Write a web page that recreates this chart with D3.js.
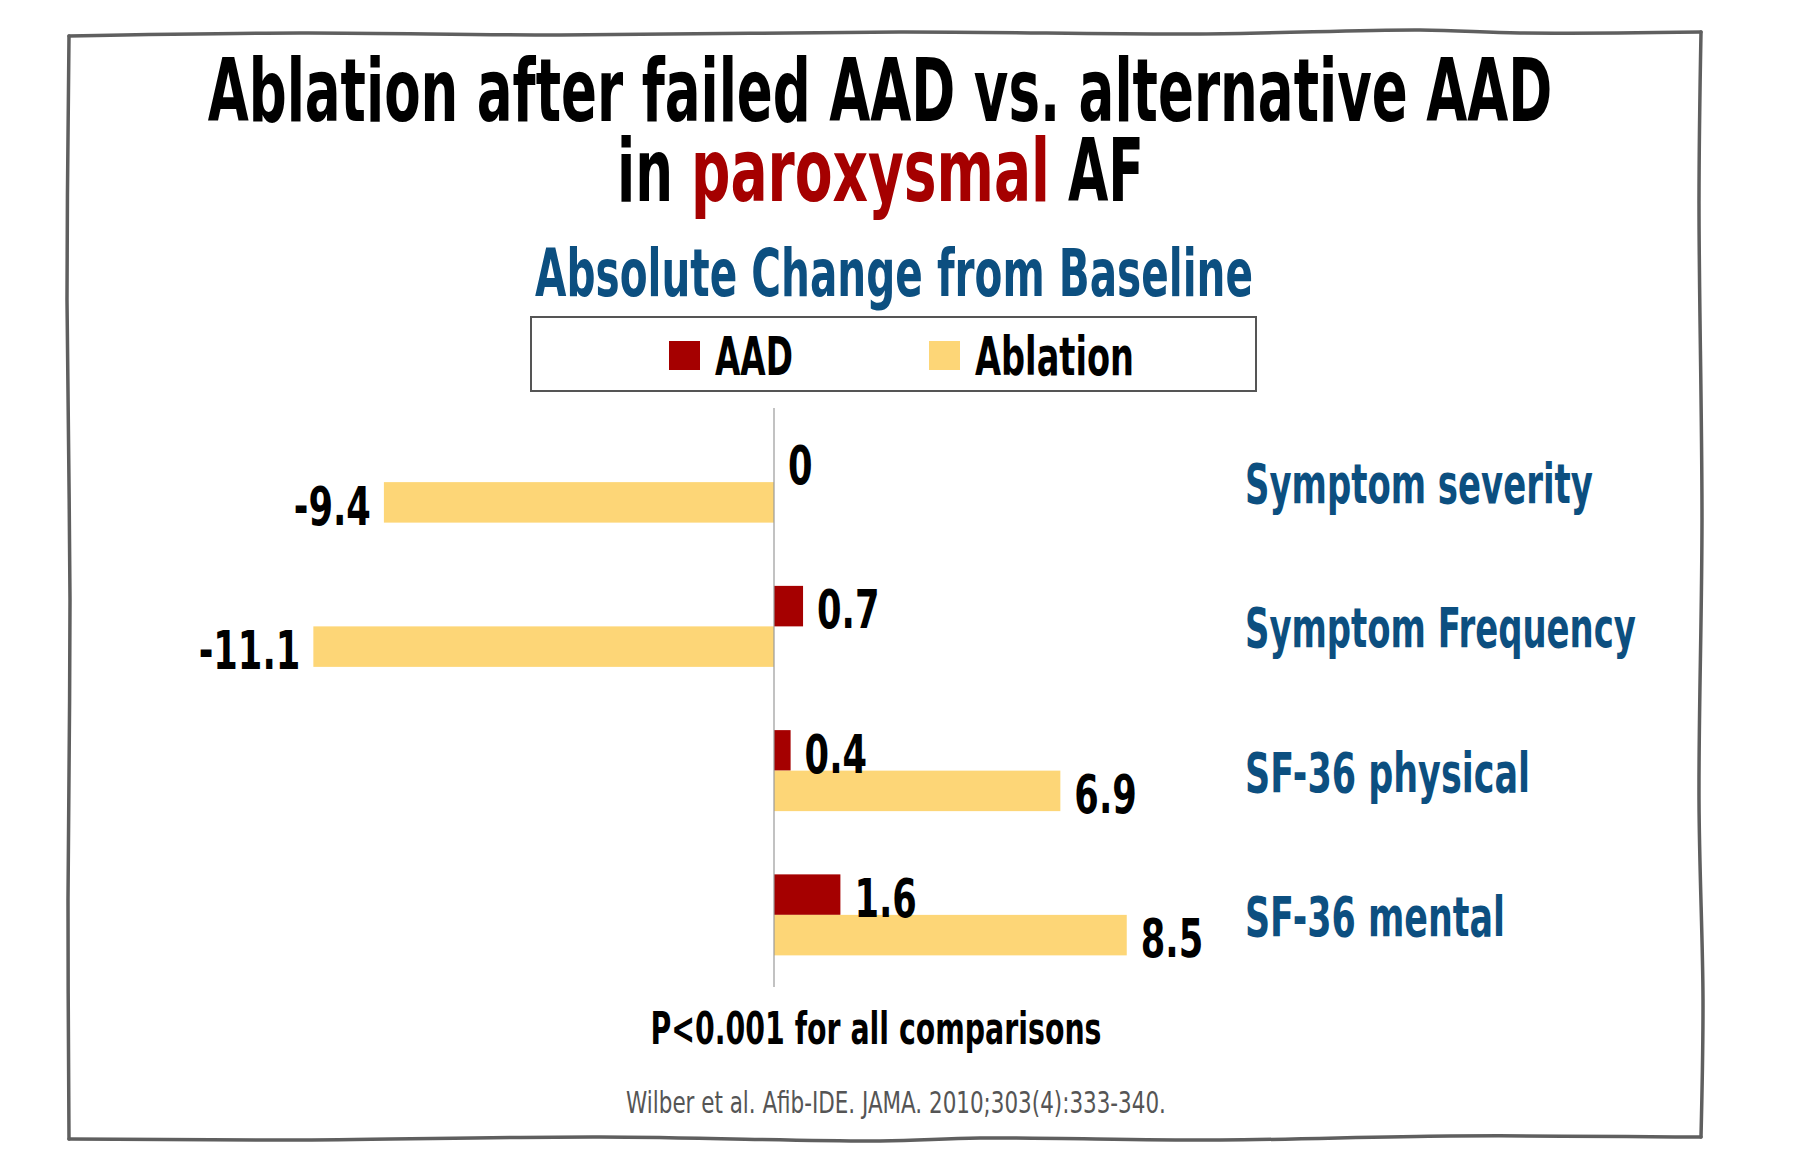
<!DOCTYPE html>
<html>
<head>
<meta charset="utf-8">
<script src="https://cdn.jsdelivr.net/npm/d3@7"></script>
<style>
  body { margin: 0; background: #fff; }
  svg text { font-family: "Liberation Sans Narrow", "DejaVu Sans Condensed", "Roboto", sans-serif; font-weight: bold; }
</style>
</head>
<body>
<div id="chart"></div>
<script>
// Data
const categories = ['Symptom severity', 'Symptom Frequency', 'SF-36 physical', 'SF-36 mental'];
const series = ['AAD', 'Ablation'];
const aad_values = [0, 0.7, 0.4, 1.6];
const ablation_values = [-9.4, -11.1, 6.9, 8.5];
const series_colors = ['#a50000', '#fdd677'];

const width = 1803;
const height = 1171;

const svg = d3.select('#chart')
	.append('svg')
	.attr('width', width)
	.attr('height', height)
	.attr('viewBox', [0, 0, width, height]);

// Hand drawn looking frame, one stroke per edge so the corners stay sharp
const frame_edges = [
	[[69, 36], [300, 33], [560, 35], [900, 32], [1200, 34], [1420, 30], [1520, 33], [1701, 32]],
	[[1701, 32], [1699, 200], [1702, 520], [1699, 800], [1703, 1000], [1701, 1137]],
	[[1701, 1137], [1450, 1136], [1220, 1140], [980, 1138], [880, 1141], [600, 1137], [300, 1140], [69, 1139]],
	[[69, 1139], [68, 900], [70, 600], [67, 300], [69, 36]]
];
frame_edges.forEach((pts) => {
	svg.append('path')
		.attr('d', d3.line().curve(d3.curveCatmullRom)(pts))
		.attr('fill', 'none')
		.attr('stroke', '#5f5f5f')
		.attr('stroke-width', 3.5)
		.attr('stroke-linecap', 'round');
});

// helper: place a text at (x, y) and squeeze it horizontally
// (the installed fonts are wider than the original condensed face)
function addText(x, y, str, size, color, opts = {}) {
	const t = svg.append('text')
		.attr('x', 0).attr('y', 0)
		.attr('text-anchor', opts.anchor || 'start')
		.style('font-size', size + 'px')
		.attr('fill', color)
		.text(str);
	if (opts.weight) t.style('font-weight', opts.weight);
	const natural = t.node().getComputedTextLength();
	const k = opts.width ? opts.width / natural : (opts.k || 1);
	t.attr('transform', 'translate(' + [x, y] + ') scale(' + k + ',1)');
	return t;
}

// Title
addText(880, 121, 'Ablation after failed AAD vs. alternative AAD', 88, '#000', { anchor: 'middle', width: 1345 });
addText(617, 201, 'in', 88, '#000', { width: 56 });
addText(691, 201, 'paroxysmal', 88, '#a50000', { width: 359 });
addText(1068, 201, 'AF', 88, '#000', { width: 76 });

addText(894, 296, 'Absolute Change from Baseline', 66, '#0c4f80', { anchor: 'middle', width: 718 });

// Legend
svg.append('rect')
	.attr('x', 531).attr('y', 317)
	.attr('width', 725).attr('height', 74)
	.attr('fill', 'none')
	.attr('stroke', '#555')
	.attr('stroke-width', 2);

const legend_x = [669, 929];
const legend_w = [78, 159];
series.forEach((s, i) => {
	svg.append('rect')
		.attr('x', legend_x[i]).attr('y', 341)
		.attr('width', 31).attr('height', 29)
		.attr('fill', series_colors[i]);
	addText(legend_x[i] + 46, 375, s, 54, '#000', { width: legend_w[i] });
});

// Scales
const x = d3.scaleLinear().domain([-12, 10]).range([276, 1189]);
const y = d3.scaleBand().domain(categories).range([410, 987]).padding(0);
const bar_h = 40.5;
const ySub = d3.scaleBand().domain(series).range([-bar_h, bar_h]);

const rows = categories.map((c, i) => ({ cat: c, values: [aad_values[i], ablation_values[i]] }));

const g = svg.append('g');

rows.forEach((r) => {
	const cy = y(r.cat) + y.bandwidth() / 2;
	series.forEach((s, j) => {
		const v = r.values[j];
		const top = cy + ySub(s);
		g.append('rect')
			.attr('x', x(Math.min(0, v)))
			.attr('y', top)
			.attr('width', Math.abs(x(v) - x(0)))
			.attr('height', ySub.bandwidth())
			.attr('fill', series_colors[j]);

		addText(v < 0 ? x(v) - 13 : x(v) + 14, top + ySub.bandwidth() + 2, String(v), 53, '#000',
			{ anchor: v < 0 ? 'end' : 'start', k: 0.74 });
	});
});

// zero axis
svg.append('line')
	.attr('x1', x(0)).attr('x2', x(0))
	.attr('y1', 408).attr('y2', 987)
	.attr('stroke', '#999')
	.attr('stroke-width', 1.2);

// category labels
const cat_w = [348, 391, 285, 260];
categories.forEach((c, i) => {
	addText(1245, y(c) + y.bandwidth() / 2 + 21, c, 55, '#0c4f80', { width: cat_w[i] });
});

// footer
addText(876, 1044, 'P<0.001 for all comparisons', 45, '#000', { anchor: 'middle', width: 451 });
addText(896, 1113, 'Wilber et al. Afib-IDE. JAMA. 2010;303(4):333-340.', 30, '#555',
	{ anchor: 'middle', width: 540, weight: 'normal' });
</script>
</body>
</html>
